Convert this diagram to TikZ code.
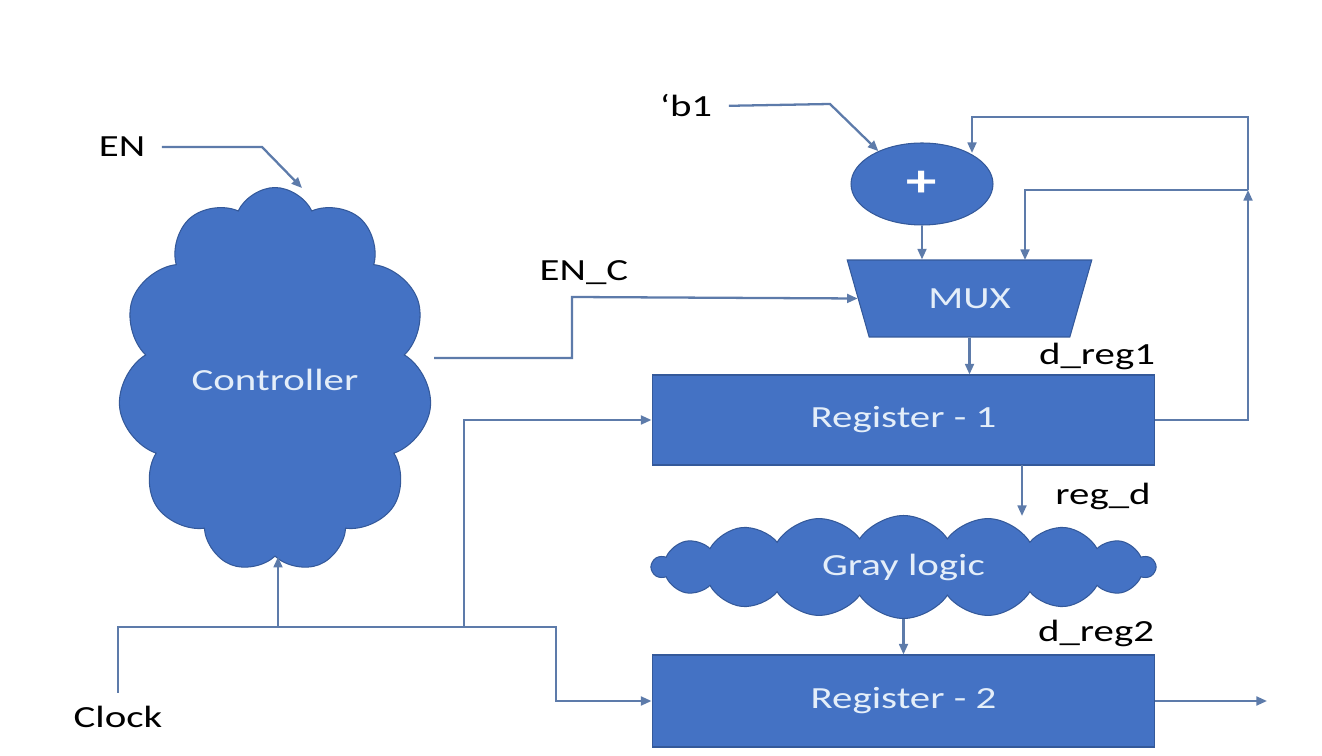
\documentclass[tikz,border=0pt]{standalone}
\usepackage{fontspec}
\setmainfont{Carlito}[FakeStretch=1.33]
\usetikzlibrary{shapes.geometric,shapes.symbols,arrows.meta}

\definecolor{blockblue}{HTML}{4472C4}
\definecolor{edgeblue}{HTML}{34599A}
\definecolor{wireblue}{HTML}{5D7BAA}
\definecolor{inktext}{HTML}{E4EEF9}

\begin{document}
\begin{tikzpicture}[x=0.02cm, y=-0.02cm,
every node/.style={align=center, font=\fontsize{17.5}{20}\selectfont},
block/.style={rectangle, fill=blockblue, draw=edgeblue, line width=0.6pt, text=inktext, minimum width=10.06cm, minimum height=1.8cm},
puffy/.style={cloud, fill=blockblue, draw=edgeblue, line width=0.6pt, text=inktext, cloud ignores aspect},
wire/.style={draw=wireblue, line width=1.3pt},
arr/.style={wire, -{Triangle[length=6pt,width=5pt]}},
tag/.style={text=black}]
\useasboundingbox (0,0) rectangle (1322,756);
%================================================================
%	Blocks
\node[puffy, cloud puffs=11, cloud puff arc=130, minimum width=6.28cm, minimum height=7.7cm] (ctrl) at (275,380) {Controller};
\node[ellipse, fill=blockblue, draw=edgeblue, line width=0.6pt, text=white, minimum width=2.84cm, minimum height=1.64cm, font=\fontsize{26}{28}\selectfont\bfseries] (add) at (922,184) {+};
\node[trapezium, trapezium stretches=true, shape border rotate=180, trapezium left angle=72, trapezium right angle=72, fill=blockblue, draw=edgeblue, line width=0.6pt, text=inktext, minimum width=4.9cm, minimum height=1.54cm] (mux) at (969.5,298.5) {MUX};
\node[block] (reg1) at (903.5,420) {Register - 1};
\node[puffy, cloud puffs=18, cloud puff arc=112, minimum width=10.06cm, minimum height=2.06cm] (gray) at (903.5,567) {Gray logic};
\node[block, minimum height=1.84cm] (reg2) at (903.5,701) {Register - 2};

%================================================================
%	Labels
\node[tag] (en) at (122,147) {EN};
\node[tag] (b1) at (686,106) {‘b1};
\node[tag] (enc) at (584,273) {EN\_C};
\node[tag] (dreg1) at (1097,356) {d\_reg1};
\node[tag] (regd) at (1103,496) {reg\_d};
\node[tag] (dreg2) at (1096,633) {d\_reg2};
\node[tag] (clk) at (118,717) {Clock};

%================================================================
%	Corners
\coordinate (enbend) at (262,147);
\coordinate (entip) at (302,188);
\coordinate (b1bend) at (830,104);
\coordinate (fbj) at (1248,190);
\coordinate (fbtop) at (1248,117);
\coordinate (addfb) at (972,153);
\coordinate (muxfb) at (1025,260);
\coordinate (ctrlout) at (434,358);
\coordinate (encup) at (572,297);
\coordinate (regdx) at (1022,465);
\coordinate (graytop) at (1022,516);
\coordinate (ckj1) at (278,627);
\coordinate (ckj2) at (464,627);
\coordinate (ckbend) at (556,627);
\coordinate (outend) at (1267,701);

%================================================================
%	Wires
\draw[arr, shorten <=6pt] (en.east) -- (enbend) -- (entip);
\draw[arr, shorten <=6pt] (b1.east) -- (b1bend) -- (add.143);
%----------------------------------------------------------------
\draw[arr] (reg1.east) -| (fbj);
\draw[arr] (fbj) -- (fbtop) -| (addfb);
\draw[arr] (fbj) -| (muxfb);
%----------------------------------------------------------------
\draw[arr] (add) -- (add |- mux.north);
\draw[arr] (ctrlout) -| (encup) -- (mux.west);
\draw[arr] (mux.south) -- (mux.south |- reg1.north);
\draw[arr] (regdx) -- (graytop);
\draw[arr] (gray.south -| reg2.north) -- (reg2.north);
\draw[arr] (reg2.east) -- (outend);
%----------------------------------------------------------------
\draw[wire, shorten <=4pt] (clk.north) |- (ckj2);
\draw[arr] (ckj1) -- (ckj1 |- ctrl.south);
\draw[arr] (ckj2) |- (reg1.west);
\draw[arr] (ckj2) -- (ckbend) |- (reg2.west);
%================================================================
\end{tikzpicture}
\end{document}
